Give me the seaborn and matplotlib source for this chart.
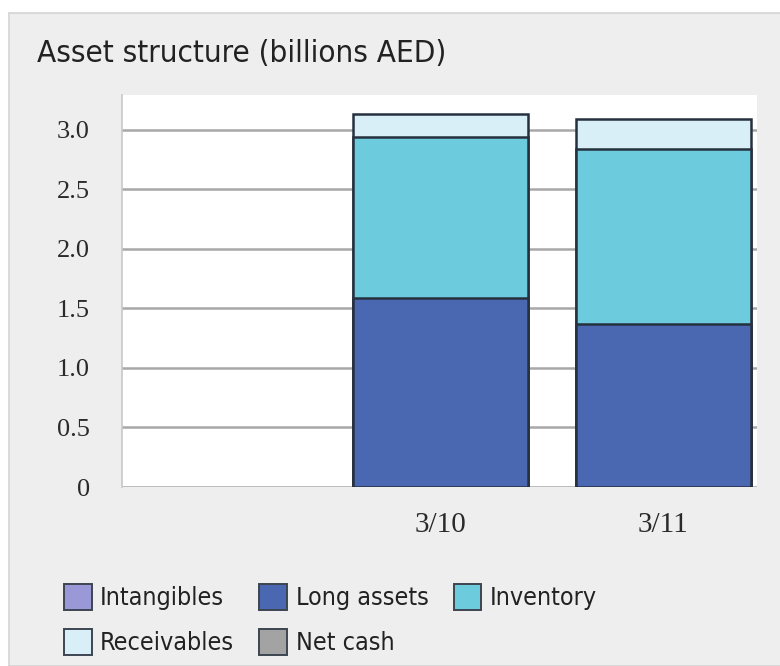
import numpy as np
import pandas as pd
import matplotlib
matplotlib.use("Agg")
import matplotlib.pyplot as plt
from matplotlib.patches import Rectangle, Patch
from matplotlib import font_manager
import seaborn as sns

# Period labels (the first slot is an empty period with no data)
periods = ["", "3/10", "3/11"]
data_periods = ["3/10", "3/11"]

# Asset components, billions AED
long_assets = [1.59, 1.37]
inventory = [1.35, 1.47]
receivables = [0.19, 0.25]

legend_labels = ["Intangibles", "Long assets", "Inventory", "Receivables", "Net cash"]
colors = {
    "Intangibles": "#9b98d8",
    "Long assets": "#4a67b1",
    "Inventory": "#6ccbdc",
    "Receivables": "#d8eff7",
    "Net cash": "#a3a3a3",
}
edge = "#26313f"

sns.set_theme(style="white")
serif = ["Liberation Serif", "DejaVu Serif"]

# Condensed sans for the title and legend
cond = [f for f in font_manager.fontManager.ttflist
        if "DejaVuSansCondensed" in f.fname.replace("-", "")
        and "Bold" not in f.fname and "Oblique" not in f.fname]
if cond:
    narrow_prop = dict(fname=cond[0].fname)
else:
    narrow_prop = dict(family="Liberation Sans")

fig = plt.figure(figsize=(7.8, 6.66), dpi=100)
fig.patch.set_facecolor("white")

# Grey card behind the chart
fig.patches.append(Rectangle((9 / 780, 0), 1.0, 1 - 13 / 666, transform=fig.transFigure,
                             facecolor="#eeeeee", edgecolor="#d4d4d4", linewidth=1.2,
                             zorder=-10))

ax = fig.add_axes([122 / 780, 1 - 487 / 666, (757 - 122) / 780, (487 - 95) / 666])
ax.set_facecolor("white")

df = pd.DataFrame({
    "period": data_periods,
    "Long assets": long_assets,
    "Inventory": inventory,
    "Receivables": receivables,
})
df["c1"] = df["Long assets"]
df["c2"] = df["c1"] + df["Inventory"]
df["c3"] = df["c2"] + df["Receivables"]

# Stack by overlaying cumulative totals, tallest first
for col, name in [("c3", "Receivables"), ("c2", "Inventory"), ("c1", "Long assets")]:
    sns.barplot(data=df, x="period", y=col, order=periods, color=colors[name],
                saturation=1, width=0.785, edgecolor=edge, linewidth=1.8,
                errorbar=None, ax=ax, zorder=3)

ax.set_ylim(0, 3.29)
ax.set_xlim(-0.43, 2.42)
ax.set_yticks([0, 0.5, 1.0, 1.5, 2.0, 2.5, 3.0])
ax.set_yticklabels(["0", "0.5", "1.0", "1.5", "2.0", "2.5", "3.0"])
ax.yaxis.grid(True, color="#a8a8a8", linewidth=1.8, zorder=0)
ax.set_axisbelow(True)
ax.set_xlabel("")
ax.set_ylabel("")
for s in ["top", "right", "bottom"]:
    ax.spines[s].set_visible(False)
ax.spines["left"].set_color("#c8c8c8")
ax.spines["left"].set_linewidth(1.2)
ax.tick_params(axis="y", length=10, width=1.8, color="#a8a8a8", pad=13, labelsize=19)
ax.tick_params(axis="x", length=0, pad=18, labelsize=21)
for lab in ax.get_yticklabels() + ax.get_xticklabels():
    lab.set_family(serif)
    lab.set_color("#2a2a2a")

title_fp = font_manager.FontProperties(size=22.5, **narrow_prop)
fig.text(37 / 780, 1 - 62 / 666, "Asset structure (billions AED)", fontproperties=title_fp,
         color="#222222", va="baseline", ha="left")

# Row-major legend: reorder for matplotlib's column-major filling
order = [0, 3, 1, 4, 2]
handles = [Patch(facecolor=colors[legend_labels[i]], edgecolor="#3c4550", linewidth=1.4) for i in order]
labels = [legend_labels[i] for i in order]
leg_fp = font_manager.FontProperties(size=18, **narrow_prop)
leg = fig.legend(handles, labels, loc="upper left", bbox_to_anchor=(64 / 780, 1 - 584 / 666),
                 ncol=3, frameon=False, prop=leg_fp,
                 handlelength=1.1, handleheight=1.2, handletextpad=0.35,
                 columnspacing=1.0, labelspacing=0.75, borderaxespad=0, borderpad=0)
for t in leg.get_texts():
    t.set_color("#222222")

fig.savefig("out.png", dpi=100)
